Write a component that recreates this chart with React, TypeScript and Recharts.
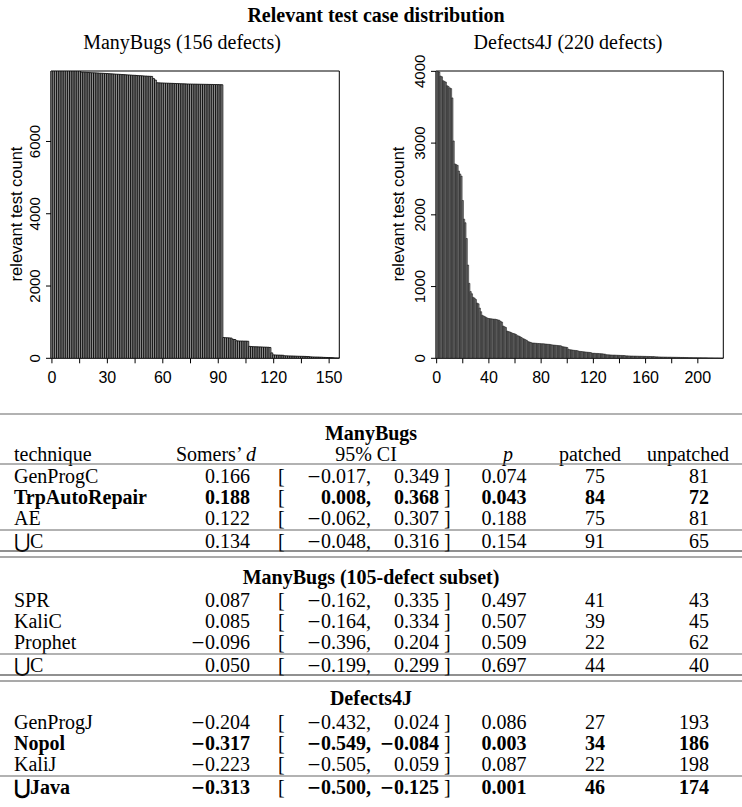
import React from "react";
import { Bar, BarChart, CartesianGrid, XAxis, YAxis } from "recharts";

// relevant test counts per defect, sorted descending
const manyBugsCounts = [
  7950, 7950, 7950, 7950, 7950, 7950, 7950, 7950, 7950, 7950, 7950, 7950, 7950, 7950, 7950, 7950,
  7920, 7918, 7915, 7912, 7910, 7905, 7902, 7900, 7898, 7895, 7890, 7888, 7885, 7882, 7880, 7876,
  7872, 7870, 7866, 7862, 7860, 7856, 7852, 7850, 7846, 7842, 7840, 7836, 7832, 7830, 7826, 7822,
  7820, 7816, 7812, 7810, 7806, 7803, 7800, 7740, 7700,
  7625, 7622, 7620, 7618, 7616, 7614, 7612, 7610, 7608, 7606, 7604, 7602, 7600, 7598, 7596, 7594,
  7592, 7590, 7589, 7588, 7587, 7586, 7585, 7584, 7583, 7582, 7581, 7580, 7579, 7578, 7577, 7576,
  7575, 7574, 7572, 7570,
  575, 570, 568, 565, 560, 525, 520, 485, 480, 478, 478, 475, 475, 472,
  330, 325, 322, 320, 318, 316, 315, 312, 310, 308, 305, 300, 150,
  95, 92, 90, 88, 86, 84, 70, 68, 66, 65, 64, 62, 60, 58, 56, 55, 54, 52, 50, 48,
  40, 38, 36, 35, 34, 32, 30, 26, 24, 22, 20, 18, 16, 10, 8, 6,
];

const defects4jCounts = [
  4005, 4000, 3990, 3935, 3925, 3870, 3860, 3850, 3800, 3790, 3770, 3760, 3630, 3030, 2710, 2700,
  2690, 2610, 2570, 2540, 2200, 1940, 1890, 1670, 1300, 1045, 930, 900, 850, 840, 820, 770, 760,
  700, 650, 600, 590, 580, 570, 560, 555, 553, 550, 548, 546, 545, 540, 535, 530, 515, 505, 450,
  440, 430, 380, 372, 368, 360, 350, 345, 340, 330, 315, 310, 300, 290, 275, 270, 260, 250, 235,
  228, 222, 215, 213, 212, 210, 208, 206, 205, 204, 203, 202, 200, 198, 196, 195, 193, 188, 186,
  184, 182, 180, 178, 176, 175, 165, 160, 158, 155, 150, 125, 120, 118, 115, 112, 110, 108, 105,
  98, 96, 94, 92, 90, 88, 86, 84, 82, 80, 72, 70, 70, 68, 68, 66, 65, 64, 62, 60, 58, 50, 49, 48,
  47, 46, 45, 45, 44, 43, 42, 41, 40, 40, 39, 38, 34, 34, 33, 33, 32, 32, 31, 31, 30, 30, 29, 29,
  28, 28, 27, 27, 26, 26, 25, 25, 24, 24, 23, 20, 20, 19, 19, 18, 18, 18, 17, 17, 16, 16, 16, 15,
  15, 14, 14, 14, 13, 13, 12, 12, 12, 11, 11, 10, 9, 9, 9, 8, 8, 8, 8, 7, 7, 7, 7, 6, 6, 6, 6, 5,
  5, 5, 5, 4, 4, 4, 4, 3, 3, 2, 2,
];

const manyBugsXTicks = [0, 15, 30, 45, 60, 75, 90, 105, 120, 135, 150];
const manyBugsXLabels = [0, 30, 60, 90, 120, 150];
const manyBugsYTicks = [0, 2000, 4000, 6000];
const defects4jXTicks = [0, 20, 40, 60, 80, 100, 120, 140, 160, 180, 200];
const defects4jXLabels = [0, 40, 80, 120, 160, 200];
const defects4jYTicks = [0, 1000, 2000, 3000, 4000];

type Row = {
  name: string;
  d: string;
  lo: string;
  hi: string;
  p: string;
  patched: number;
  unpatched: number;
  bold?: boolean;
};

const manyBugsRows: Row[] = [
  { name: "GenProgC", d: "0.166", lo: "−0.017", hi: "0.349", p: "0.074", patched: 75, unpatched: 81 },
  { name: "TrpAutoRepair", d: "0.188", lo: "0.008", hi: "0.368", p: "0.043", patched: 84, unpatched: 72, bold: true },
  { name: "AE", d: "0.122", lo: "−0.062", hi: "0.307", p: "0.188", patched: 75, unpatched: 81 },
];
const manyBugsUnion: Row = { name: "⋃C", d: "0.134", lo: "−0.048", hi: "0.316", p: "0.154", patched: 91, unpatched: 65 };

const subsetRows: Row[] = [
  { name: "SPR", d: "0.087", lo: "−0.162", hi: "0.335", p: "0.497", patched: 41, unpatched: 43 },
  { name: "KaliC", d: "0.085", lo: "−0.164", hi: "0.334", p: "0.507", patched: 39, unpatched: 45 },
  { name: "Prophet", d: "−0.096", lo: "−0.396", hi: "0.204", p: "0.509", patched: 22, unpatched: 62 },
];
const subsetUnion: Row = { name: "⋃C", d: "0.050", lo: "−0.199", hi: "0.299", p: "0.697", patched: 44, unpatched: 40 };

const defects4jRows: Row[] = [
  { name: "GenProgJ", d: "−0.204", lo: "−0.432", hi: "0.024", p: "0.086", patched: 27, unpatched: 193 },
  { name: "Nopol", d: "−0.317", lo: "−0.549", hi: "−0.084", p: "0.003", patched: 34, unpatched: 186, bold: true },
  { name: "KaliJ", d: "−0.223", lo: "−0.505", hi: "0.059", p: "0.087", patched: 22, unpatched: 198 },
];
const defects4jUnion: Row = { name: "⋃Java", d: "−0.313", lo: "−0.500", hi: "−0.125", p: "0.001", patched: 46, unpatched: 174, bold: true };

const SANS = "'Liberation Sans', Arial, sans-serif";
const SERIF = "'Liberation Serif', 'Times New Roman', serif";

// math-style minus: long bar from DejaVu, then the digits in the serif face
function Num({ s }: { s: string }) {
  if (!s.startsWith("−")) return <>{s}</>;
  return (
    <>
      <tspan fontFamily="'DejaVu Serif', serif" fontSize={17}>−</tspan>
      <tspan>{s.slice(1)}</tspan>
    </>
  );
}

function YTick(props: any) {
  const { x, y, payload } = props;
  const bx = x - 4;
  return (
    <text
      x={bx}
      y={y}
      transform={`rotate(-90 ${bx} ${y})`}
      textAnchor="middle"
      fontSize={15}
      fontFamily={SANS}
      fill="#000"
    >
      {payload.value}
    </text>
  );
}

function makeXTick(labels: number[]) {
  return (props: any) => {
    const { x, y, payload } = props;
    if (!labels.includes(payload.value)) return <g />;
    return (
      <text x={x} y={y + 12} textAnchor="middle" dominantBaseline="central" fontSize={16} fontFamily={SANS} fill="#000">
        {payload.value}
      </text>
    );
  };
}

interface DistProps {
  counts: number[];
  yMax: number;
  yTicks: number[];
  xTicks: number[];
  xLabels: number[];
  barSize: number;
  fill: string;
  edge: number;
  margin: { top: number; right: number; bottom: number; left: number };
}

function DistChart({ counts, yMax, yTicks, xTicks, xLabels, barSize, fill, edge, margin }: DistProps) {
  const data = counts.map((count, idx) => ({ idx, count }));
  return (
    <BarChart width={371} height={400} data={data} margin={margin} barCategoryGap={0} barGap={0}>
      <CartesianGrid
        stroke="#000"
        strokeWidth={1}
        horizontalCoordinatesGenerator={({ offset }: any) => [offset.top, offset.top + offset.height]}
        verticalCoordinatesGenerator={({ offset }: any) => [offset.left, offset.left + offset.width]}
      />
      <XAxis
        dataKey="idx"
        ticks={xTicks}
        interval={0}
        tickSize={5}
        axisLine={false}
        stroke="#000"
        height={30}
        tick={makeXTick(xLabels)}
      />
      <YAxis
        type="number"
        domain={[0, yMax]}
        ticks={yTicks}
        interval={0}
        tickSize={5}
        axisLine={false}
        stroke="#000"
        width={40}
        tick={YTick}
        allowDataOverflow
      />
      <Bar
        dataKey="count"
        fill={fill}
        stroke="#000"
        strokeWidth={edge}
        barSize={barSize}
        isAnimationActive={false}
      />
    </BarChart>
  );
}

// columns of the table
const COL = { name: 14, dRight: 250, bracket: 278, loRight: 371, hiRight: 439, close: 444, p: 504, patchedRight: 605, unpatchedRight: 709 };

function TableRow({ row, y }: { row: Row; y: number }) {
  const fw = row.bold ? "bold" : "normal";
  return (
    <g fontFamily={SERIF} fontSize={20} fill="#000" dominantBaseline="central">
      <text x={COL.name} y={y} fontWeight={fw}>{row.name}</text>
      <text x={COL.dRight} y={y} textAnchor="end" fontWeight={fw}><Num s={row.d} /></text>
      <text x={COL.bracket} y={y}>[</text>
      <text x={COL.loRight} y={y} textAnchor="end" fontWeight={fw}><Num s={row.lo} />,</text>
      <text x={COL.hiRight} y={y} textAnchor="end" fontWeight={fw}><Num s={row.hi} /></text>
      <text x={COL.close} y={y}>]</text>
      <text x={COL.p} y={y} textAnchor="middle" fontWeight={fw}>{row.p}</text>
      <text x={COL.patchedRight} y={y} textAnchor="end" fontWeight={fw}>{row.patched}</text>
      <text x={COL.unpatchedRight} y={y} textAnchor="end" fontWeight={fw}>{row.unpatched}</text>
    </g>
  );
}

function Rule({ y, color = "#666" }: { y: number; color?: string }) {
  return <line x1={0} x2={742} y1={y} y2={y} stroke={color} strokeWidth={1.2} />;
}

interface SectionProps {
  title: string;
  titleY: number;
  rows: Row[];
  union: Row;
  firstRowY: number;
  closing: boolean;
}

function Section({ title, titleY, rows, union, firstRowY, closing }: SectionProps) {
  const rowY = rows.map((_, i) => firstRowY + i * 21);
  const last = rowY[rowY.length - 1];
  return (
    <g>
      {title && (
        <text x={371} y={titleY} textAnchor="middle" dominantBaseline="central" fontFamily={SERIF} fontSize={20} fontWeight="bold">
          {title}
        </text>
      )}
      {rows.map((r, i) => (
        <TableRow key={r.name} row={r} y={rowY[i]} />
      ))}
      <Rule y={last + 12} />
      <TableRow row={union} y={last + 23} />
      {closing && <Rule y={last + 33} color="#222" />}
      {closing && <Rule y={last + 39} color="#555" />}
    </g>
  );
}

export default function App() {
  return (
    <div style={{ position: "absolute", left: 0, top: 0, width: 742, height: 807, background: "#fff" }}>
      <div style={{ position: "absolute", left: 0, top: 0 }}>
        <DistChart
          counts={manyBugsCounts}
          yMax={7950}
          yTicks={manyBugsYTicks}
          xTicks={manyBugsXTicks}
          xLabels={manyBugsXLabels}
          barSize={1.84}
          fill="#a2a2a2"
          edge={0.8}
          margin={{ top: 71, right: 31.7, bottom: 11.7, left: 11 }}
        />
      </div>
      <div style={{ position: "absolute", left: 371, top: 0 }}>
        <DistChart
          counts={defects4jCounts}
          yMax={4005}
          yTicks={defects4jYTicks}
          xTicks={defects4jXTicks}
          xLabels={defects4jXLabels}
          barSize={1.3}
          fill="#8a8a8a"
          edge={0.5}
          margin={{ top: 71, right: 18.7, bottom: 11.7, left: 25 }}
        />
      </div>
      <svg width={742} height={807} style={{ position: "absolute", left: 0, top: 0, pointerEvents: "none" }}>
        <text x={376} y={15} textAnchor="middle" dominantBaseline="central" fontFamily={SERIF} fontSize={20} fontWeight="bold">
          Relevant test case distribution
        </text>
        <text x={182} y={42} textAnchor="middle" dominantBaseline="central" fontFamily={SERIF} fontSize={20}>
          ManyBugs (156 defects)
        </text>
        <text x={568} y={42} textAnchor="middle" dominantBaseline="central" fontFamily={SERIF} fontSize={20}>
          Defects4J (220 defects)
        </text>
        <text x={21.5} y={214} transform="rotate(-90 21.5 214)" textAnchor="middle" fontFamily={SANS} fontSize={16.5}>
          relevant test count
        </text>
        <text x={404} y={214} transform="rotate(-90 404 214)" textAnchor="middle" fontFamily={SANS} fontSize={16.5}>
          relevant test count
        </text>

        <Rule y={414} />
        <text x={371} y={433} textAnchor="middle" dominantBaseline="central" fontFamily={SERIF} fontSize={20} fontWeight="bold">
          ManyBugs
        </text>
        <g fontFamily={SERIF} fontSize={20} dominantBaseline="central">
          <text x={COL.name} y={454}>technique</text>
          <text x={216} y={454} textAnchor="middle">
            Somers’ <tspan fontStyle="italic">d</tspan>
          </text>
          <text x={366} y={454} textAnchor="middle">95% CI</text>
          <text x={508} y={454} textAnchor="middle" fontStyle="italic">p</text>
          <text x={590} y={454} textAnchor="middle">patched</text>
          <text x={688} y={454} textAnchor="middle">unpatched</text>
        </g>
        <Rule y={464} />
        <Section title="" titleY={0} rows={manyBugsRows} union={manyBugsUnion} firstRowY={476} closing />
        <Section title="ManyBugs (105-defect subset)" titleY={577} rows={subsetRows} union={subsetUnion} firstRowY={600} closing />
        <Section title="Defects4J" titleY={698} rows={defects4jRows} union={defects4jUnion} firstRowY={722} closing={false} />
      </svg>
    </div>
  );
}
